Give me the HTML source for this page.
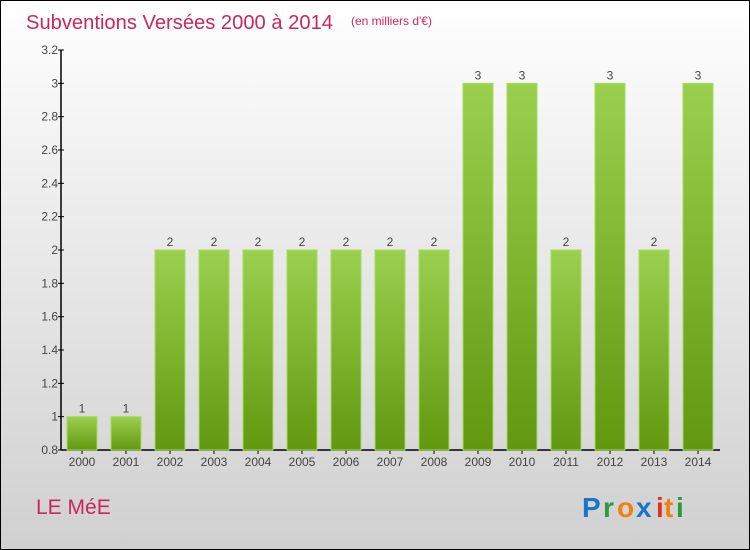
<!DOCTYPE html>
<html><head><meta charset="utf-8"><style>
html,body{margin:0;padding:0}
body{width:750px;height:550px;overflow:hidden;font-family:"Liberation Sans",sans-serif}
#wrap{position:absolute;left:0;top:0;width:748px;height:548px;border:1px solid #000;background:linear-gradient(#fff 0%,#f0f0f0 30%,#d0d0d0 100%)}
</style></head><body>
<div id="wrap">
<svg width="750" height="550" style="position:absolute;left:-1px;top:-1px">
<defs><linearGradient id="g" x1="0" y1="0" x2="0" y2="1"><stop offset="0" stop-color="#9ad04e"/><stop offset="1" stop-color="#62980f"/></linearGradient></defs>
<text x="26" y="29" font-size="20" fill="#c8285e" textLength="307" lengthAdjust="spacingAndGlyphs">Subventions Versées 2000 à 2014</text>
<text x="351" y="25" font-size="12" fill="#c8285e">(en milliers d'€)</text>
<g id="axis"></g><g id="bars"></g>
<text x="36" y="514" font-size="21" fill="#c8285e">LE MéE</text>
<g font-size="28" font-weight="bold">
<text x="582" y="517" fill="#1a75c8">P</text><text x="603" y="517" fill="#2a9a3a">r</text><text x="617" y="517" fill="#f08010">o</text><text x="636" y="517" fill="#1a75c8">x</text><text x="656" y="517" fill="#e03020">i</text><text x="664" y="517" fill="#f08010">t</text><text x="676" y="517" fill="#2a9a3a">i</text></g>
</svg></div>
<script>
const categories=["2000","2001","2002","2003","2004","2005","2006","2007","2008","2009","2010","2011","2012","2013","2014"];
const values=[1,1,2,2,2,2,2,2,2,3,3,2,3,2,3];
const yTicks=[0.8,1,1.2,1.4,1.6,1.8,2,2.2,2.4,2.6,2.8,3,3.2];
const yMin=0.8,yMax=3.2,yTop=50,yBot=450,x0=82,step=44,bw=30;
const y=v=>yBot-(v-yMin)/(yMax-yMin)*(yBot-yTop);
const x=i=>x0+i*step;
const NS="http://www.w3.org/2000/svg";
function mk(t,a,p){const e=document.createElementNS(NS,t);for(const k in a)e.setAttribute(k,a[k]);p.appendChild(e);return e;}
const ax=document.getElementById('axis'),bg=document.getElementById('bars');
let l=mk('line',{x1:61,y1:yTop,x2:61,y2:yBot,stroke:'#000','stroke-width':1.5},ax);


l=mk('line',{x1:61,y1:yBot,x2:720,y2:yBot,stroke:'#000','stroke-width':1.5},ax);


yTicks.forEach(v=>{
 mk('line',{x1:58,y1:y(v),x2:64,y2:y(v),stroke:'#000'},ax);
 const t=mk('text',{x:58,y:y(v)+4,'font-size':12,fill:'#444','text-anchor':'end'},ax);
 t.textContent=String(v);
 
 
});
categories.forEach((c,i)=>{
 const r=mk('rect',{x:x(i)-bw/2,y:y(values[i]),width:bw,height:yBot-y(values[i]),fill:'url(#g)',stroke:'#a6dc5c','stroke-width':1},bg);
 
 
 const t=mk('text',{x:x(i),y:y(values[i])-4,'font-size':12,fill:'#444','text-anchor':'middle'},bg);
 t.textContent=values[i];
 
 
 mk('line',{x1:x(i),y1:yBot,x2:x(i),y2:yBot+4,stroke:'#000'},ax);
 const xt=mk('text',{x:x(i),y:466,'font-size':12,fill:'#444','text-anchor':'middle'},ax);
 xt.textContent=c;
 
 
});
</script>
</body></html>
